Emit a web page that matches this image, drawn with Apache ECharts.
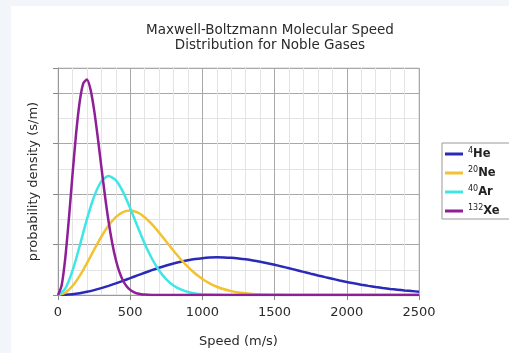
<!DOCTYPE html>
<html>
<head>
<meta charset="utf-8">
<script src="https://cdn.jsdelivr.net/npm/echarts@6/dist/echarts.min.js"></script>
<style>
  html, body { margin: 0; padding: 0; background: #f2f6fb; }
  #main { position: absolute; left: 11px; top: 6px; width: 498px; height: 347px; background: #fff; }
</style>
</head>
<body>
<div id="main"></div>
<script>
// speed (m/s)
var speeds = [0, 50, 100, 150, 200, 250, 300, 350, 400, 450,
  500, 550, 600, 650, 700, 750, 800, 850, 900, 950,
  1000, 1050, 1100, 1150, 1200, 1250, 1300, 1350, 1400, 1450,
  1500, 1550, 1600, 1650, 1700, 1750, 1800, 1850, 1900, 1950,
  2000, 2050, 2100, 2150, 2200, 2250, 2300, 2350, 2400, 2450, 2500];
// xenon is narrow, read at finer steps
var xeSpeeds = [0, 25, 50, 75, 100, 125, 150, 175, 200, 225,
  250, 275, 300, 325, 350, 375, 400, 425, 450, 475,
  500, 525, 550, 575, 600, 625, 650, 675, 700, 2500];

// probability density, x 10^-3 s/m
var he = [0, 0.004, 0.016, 0.036, 0.063, 0.097, 0.137, 0.182, 0.230, 0.281,
  0.334, 0.388, 0.441, 0.492, 0.540, 0.585, 0.625, 0.660, 0.689, 0.713,
  0.730, 0.741, 0.746, 0.744, 0.737, 0.724, 0.707, 0.685, 0.659, 0.630,
  0.599, 0.565, 0.531, 0.495, 0.459, 0.423, 0.388, 0.354, 0.321, 0.289,
  0.259, 0.231, 0.205, 0.181, 0.159, 0.139, 0.121, 0.105, 0.090, 0.077, 0.066];
var ne = [0, 0.046, 0.178, 0.380, 0.629, 0.897, 1.155, 1.377, 1.544, 1.644,
  1.674, 1.636, 1.541, 1.403, 1.237, 1.057, 0.878, 0.709, 0.557, 0.426,
  0.318, 0.231, 0.164, 0.113, 0.077, 0.050, 0.033, 0.020, 0.013, 0.008,
  0.004, 0.003, 0.001, 0.001, 0, 0, 0, 0, 0, 0,
  0, 0, 0, 0, 0, 0, 0, 0, 0, 0, 0];
var ar = [0, 0.127, 0.477, 0.971, 1.499, 1.953, 2.253, 2.358, 2.276, 2.044,
  1.720, 1.363, 1.020, 0.723, 0.486, 0.311, 0.189, 0.110, 0.061, 0.032,
  0.016, 0.008, 0.004, 0.002, 0.001, 0, 0, 0, 0, 0,
  0, 0, 0, 0, 0, 0, 0, 0, 0, 0,
  0, 0, 0, 0, 0, 0, 0, 0, 0, 0, 0];
var xe = [0, 0.190, 0.723, 1.497, 2.370, 3.189, 3.825, 4.195, 4.271, 4.077,
  3.671, 3.134, 2.546, 1.973, 1.461, 1.036, 0.705, 0.460, 0.288, 0.174,
  0.101, 0.056, 0.030, 0.016, 0.008, 0.004, 0.002, 0.001, 0, 0];

var gases = ['He', 'Ne', 'Ar', 'Xe'];
var massNums = ['4', '20', '40', '132'];
var colors = ['#2a2ab8', '#f2c232', '#3fe6e6', '#8e1f96'];
var values = [he, ne, ar, xe];
var xs = [speeds, speeds, speeds, xeSpeeds];

var font = 'DejaVu Sans, Verdana, sans-serif';

function pairs(sp, v) {
  var out = [];
  for (var i = 0; i < sp.length; i++) {
    out.push([sp[i], v[i]]);
  }
  return out;
}

var series = [];
for (var k = 0; k < gases.length; k++) {
  series.push({
    name: gases[k],
    type: 'line',
    data: pairs(xs[k], values[k]),
    smooth: 0.25,
    showSymbol: false,
    lineStyle: { color: colors[k], width: 2.5 },
    itemStyle: { color: colors[k] }
  });
}

var myChart = echarts.init(document.getElementById('main'));
myChart.setOption({
  animation: false,
  title: {
    text: 'Maxwell-Boltzmann Molecular Speed\nDistribution for Noble Gases',
    left: 254,
    textAlign: 'center',
    top: 12,
    textStyle: { fontFamily: font, fontSize: 13.5, fontWeight: 'normal', color: '#2a2a2a', lineHeight: 15 }
  },
  legend: {
    orient: 'vertical',
    left: 431,
    top: 137,
    padding: [4, 40, 2, 3],
    itemGap: 6,
    itemWidth: 18,
    itemHeight: 3,
    icon: 'rect',
    borderColor: '#999',
    borderWidth: 1,
    data: gases,
    formatter: function (name) {
      return '{sup|' + massNums[gases.indexOf(name)] + '}{el|' + name + '}';
    },
    textStyle: {
      fontFamily: font,
      color: '#222',
      rich: {
        sup: { fontSize: 8, verticalAlign: 'top', padding: [0, 0, 5, 0], fontFamily: font, color: '#222' },
        el: { fontSize: 11.5, lineHeight: 14, fontFamily: font, color: '#222', fontWeight: 'bold' }
      }
    }
  },
  grid: { left: 47, top: 62, right: 90, bottom: 57, show: true, borderColor: '#cfcfcf', borderWidth: 1 },
  xAxis: {
    type: 'value',
    min: 0,
    max: 2500,
    interval: 500,
    name: 'Speed (m/s)',
    nameLocation: 'middle',
    nameGap: 40,
    nameTextStyle: { fontFamily: font, fontSize: 13, color: '#2a2a2a' },
    axisLine: { lineStyle: { color: '#999' } },
    axisTick: { show: true, inside: false, length: 5, lineStyle: { color: '#888' } },
    axisLabel: {
      fontFamily: font, fontSize: 13, color: '#2a2a2a', margin: 11,
      formatter: function (v) { return String(v); }
    },
    splitLine: { show: true, lineStyle: { color: '#a8a8a8', width: 1 } },
    minorTick: { show: false, splitNumber: 5 },
    minorSplitLine: { show: true, lineStyle: { color: '#e4e4e4', width: 1 } }
  },
  yAxis: {
    type: 'value',
    min: 0,
    max: 4.5,
    interval: 1,
    name: 'probability density (s/m)',
    nameLocation: 'middle',
    nameGap: 18,
    nameTextStyle: { fontFamily: font, fontSize: 13, color: '#2a2a2a' },
    axisLine: { show: true, lineStyle: { color: '#999' } },
    axisTick: { show: true, inside: false, length: 5, lineStyle: { color: '#888' } },
    axisLabel: { show: false },
    splitLine: { show: true, lineStyle: { color: '#a8a8a8', width: 1 } },
    minorTick: { show: false, splitNumber: 2 },
    minorSplitLine: { show: true, lineStyle: { color: '#e4e4e4', width: 1 } }
  },
  series: series
});
</script>
</body>
</html>
